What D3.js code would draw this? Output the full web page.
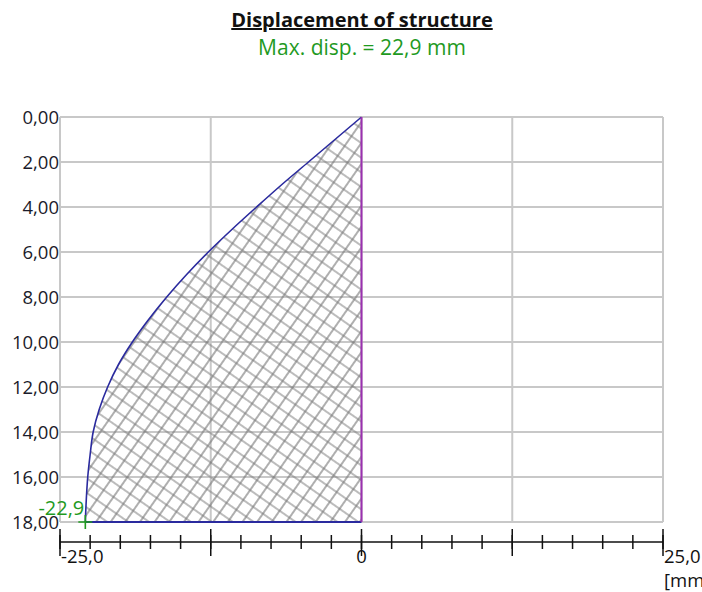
<!DOCTYPE html>
<html>
<head>
<meta charset="utf-8">
<script src="https://cdn.jsdelivr.net/npm/d3@7"></script>
<style>
  html, body { margin: 0; padding: 0; background: #fff; }
  svg { display: block; font-family: "Open Sans", "Noto Sans", sans-serif; }
</style>
</head>
<body>
<svg id="chart" width="702" height="592"></svg>
<script>
// Depth below top of structure [m] and horizontal displacement [mm]
const depths = [0, 1, 2, 3, 4, 5, 6, 7, 8, 9, 10, 11, 12, 13, 14, 15, 16, 17, 18];
const displacements = [0, -2.2, -4.4, -6.6, -8.7, -10.75, -12.7, -14.5, -16.15, -17.65,
                       -19.0, -20.15, -21.05, -21.75, -22.25, -22.5, -22.7, -22.82, -22.9];

const maxDisp = -22.9;           // extreme value, marked at the base
const depthTicks = [0, 2, 4, 6, 8, 10, 12, 14, 16, 18];
const dispGrid = [-25, -12.5, 0, 12.5, 25];
const dispMinor = d3.range(-25, 25.001, 2.5);
const dispLabels = [-25, 0, 25];

const titleText = "Displacement of structure";
const subtitleText = "Max. disp. = 22,9 mm";
const unitText = "[mm]";

const fmt2 = v => v.toFixed(2).replace(".", ",");
const fmt1 = v => v.toFixed(1).replace(".", ",");

const svg = d3.select("#chart");

const x = d3.scaleLinear().domain([-25, 25]).range([60, 663]);
const y = d3.scaleLinear().domain([0, 18]).range([117, 522]);

// hatch pattern for the displaced area
const defs = svg.append("defs");
const pat = defs.append("pattern")
  .attr("id", "hatch")
  .attr("patternUnits", "userSpaceOnUse")
  .attr("width", 12).attr("height", 12)
  .attr("patternTransform", "rotate(35)");
pat.append("path")
  .attr("d", "M0,6H12M6,0V12")
  .attr("stroke", "#7a7a7a")
  .attr("stroke-width", 1.2)
  .attr("fill", "none");

// titles
svg.append("text")
  .attr("x", 362).attr("y", 27)
  .attr("text-anchor", "middle")
  .attr("font-size", 20).attr("font-weight", "bold")
  .attr("text-decoration", "underline")
  .attr("fill", "#111")
  .text(titleText);

svg.append("text")
  .attr("x", 362).attr("y", 55)
  .attr("text-anchor", "middle")
  .attr("font-size", 21)
  .attr("fill", "#1f9a1f")
  .text(subtitleText);

// grid
const grid = svg.append("g").attr("stroke", "#c8c8c8").attr("stroke-width", 2);
grid.selectAll("line.h").data(depthTicks).join("line")
  .attr("x1", x(-25)).attr("x2", x(25))
  .attr("y1", d => y(d)).attr("y2", d => y(d));
grid.selectAll("line.v").data(dispGrid).join("line")
  .attr("x1", d => x(d)).attr("x2", d => x(d))
  .attr("y1", y(0)).attr("y2", y(18));

// displaced area
const areaPts = depths.map((d, i) => [displacements[i], d]);
const area = d3.area()
  .y(d => y(d[1]))
  .x0(() => x(0))
  .x1(d => x(d[0]))
  .curve(d3.curveMonotoneY);
svg.append("path")
  .datum(areaPts)
  .attr("d", area)
  .attr("fill", "url(#hatch)");

// deflection curve
const line = d3.line()
  .x(d => x(d[0]))
  .y(d => y(d[1]))
  .curve(d3.curveMonotoneY);
svg.append("path")
  .datum(areaPts)
  .attr("d", line)
  .attr("fill", "none")
  .attr("stroke", "#2a2a9e")
  .attr("stroke-width", 1.6);

// base line
svg.append("line")
  .attr("x1", x(maxDisp)).attr("x2", x(0))
  .attr("y1", y(18)).attr("y2", y(18))
  .attr("stroke", "#2a2a9e").attr("stroke-width", 2);

// structure axis
svg.append("line")
  .attr("x1", x(0)).attr("x2", x(0))
  .attr("y1", y(0)).attr("y2", y(18))
  .attr("stroke", "#9b30b0").attr("stroke-width", 2);

// depth labels
svg.append("g").selectAll("text").data(depthTicks).join("text")
  .attr("x", 59).attr("y", d => y(d) + 7)
  .attr("text-anchor", "end")
  .attr("font-size", 18.5)
  .attr("fill", "#1b1b2a")
  .text(fmt2);

// displacement axis
const axisY = 542;
const ax = svg.append("g").attr("stroke", "#111").attr("stroke-width", 1.5);
ax.append("line").attr("x1", x(-25)).attr("x2", x(25)).attr("y1", axisY).attr("y2", axisY);
ax.selectAll("line.minor").data(dispMinor).join("line")
  .attr("x1", d => x(d)).attr("x2", d => x(d))
  .attr("y1", axisY - 7).attr("y2", axisY + 7);
ax.selectAll("line.major").data(dispGrid).join("line")
  .attr("x1", d => x(d)).attr("x2", d => x(d))
  .attr("y1", axisY - 13).attr("y2", axisY + 14);

svg.append("g").selectAll("text").data(dispLabels).join("text")
  .attr("x", d => d === 0 ? x(d) : x(d) + 1)
  .attr("y", 563)
  .attr("text-anchor", d => d === 0 ? "middle" : "start")
  .attr("font-size", 18.5)
  .attr("fill", "#111")
  .text(d => d === 0 ? "0" : fmt1(d));

svg.append("text")
  .attr("x", x(25) + 1).attr("y", 587)
  .attr("font-size", 18.5)
  .attr("fill", "#111")
  .text(unitText);

// maximum displacement marker
const mx = x(maxDisp), my = y(18);
svg.append("path")
  .attr("d", `M${mx - 7},${my}H${mx + 7}M${mx},${my - 7}V${my + 7}`)
  .attr("stroke", "#1f9a1f").attr("stroke-width", 1.6);
svg.append("text")
  .attr("x", mx - 1).attr("y", my - 7)
  .attr("text-anchor", "end")
  .attr("font-size", 20)
  .attr("fill", "#1f9a1f")
  .text(fmt1(maxDisp));
</script>
</body>
</html>
